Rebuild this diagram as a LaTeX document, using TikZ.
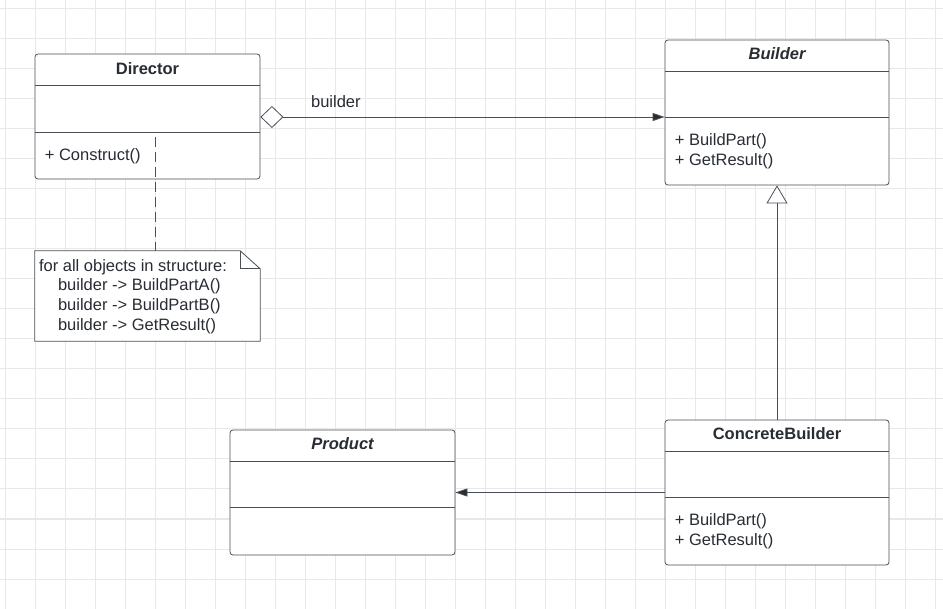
\documentclass[tikz,border=0pt]{standalone}
\usepackage{fontspec}
\setmainfont{Liberation Sans}
\definecolor{LineColor}{RGB}{74,79,87}
\definecolor{TextColor}{RGB}{40,44,51}
\definecolor{GridColor}{RGB}{232,232,232}
\usetikzlibrary{positioning, arrows.meta, calc}

\begin{document}
\begin{tikzpicture}[x=1pt, y=-1pt, font=\fontsize{16.5}{20}\selectfont,
    classbox/.style={draw=LineColor, line width=0.8pt, rounded corners=3pt, fill=white, inner sep=0pt, minimum width=225pt},
    classname/.style={font=\fontsize{16.5}{20}\selectfont\bfseries, text=TextColor, anchor=base},
    abstractname/.style={font=\fontsize{16.5}{20}\selectfont\bfseries\itshape, text=TextColor, anchor=base},
    members/.style={text=TextColor, align=left, anchor=base west, inner sep=0pt},
    divider/.style={draw=LineColor, line width=0.8pt},
    assoc/.style={draw=LineColor, line width=0.8pt, -{Triangle[length=12pt, width=8pt, fill=TextColor]}}]
  % background grid
  \useasboundingbox (0,0) rectangle (943,609);
  \fill[white] (0,0) rectangle (943,609);
  \foreach \gx in {5,35,...,935} \draw[GridColor, line width=1pt] (\gx,0) -- (\gx,609);
  \foreach \gy in {9,39,...,579} \draw[GridColor, line width=1pt] (0,\gy) -- (943,\gy);

  % classes
  \node[classbox, minimum height=125pt] (director) at (147.5,116.5) {};
  \node[classbox, minimum width=224pt, minimum height=145pt] (builder) at (777,112.5) {};
  \node[classbox, minimum width=224pt, minimum height=145pt] (concrete) at (777,492.5) {};
  \node[classbox, minimum height=125pt] (product) at (342.5,492.5) {};

  % compartments
  \draw[divider] ([yshift=-32pt]director.north west) -- ([yshift=-32pt]director.north east);
  \draw[divider] ([yshift=-79pt]director.north west) -- ([yshift=-79pt]director.north east);
  \draw[divider] ([yshift=-32pt]builder.north west) -- ([yshift=-32pt]builder.north east);
  \draw[divider] ([yshift=-78pt]builder.north west) -- ([yshift=-78pt]builder.north east);
  \draw[divider] ([yshift=-32pt]concrete.north west) -- ([yshift=-32pt]concrete.north east);
  \draw[divider] ([yshift=-78pt]concrete.north west) -- ([yshift=-78pt]concrete.north east);
  \draw[divider] ([yshift=-32pt]product.north west) -- ([yshift=-32pt]product.north east);
  \draw[divider] ([yshift=-78pt]product.north west) -- ([yshift=-78pt]product.north east);

  % names and operations
  \node[classname] (directorname) at ([yshift=-21pt]director.north) {Director};
  \node[abstractname] (buildername) at ([yshift=-20pt]builder.north) {Builder};
  \node[classname] (concretename) at ([yshift=-20pt]concrete.north) {ConcreteBuilder};
  \node[abstractname] (productname) at ([yshift=-20pt]product.north) {Product};
  \node[members] (directorops) at ([xshift=10pt, yshift=-107pt]director.north west) {+ Construct()};
  \node[members] (builderops) at ([xshift=10pt, yshift=-126pt]builder.north west) {+ BuildPart()\\+ GetResult()};
  \node[members] (concreteops) at ([xshift=10pt, yshift=-126pt]concrete.north west) {+ BuildPart()\\+ GetResult()};

  % note
  \node[inner sep=0pt, minimum width=225pt, minimum height=90pt] (note) at (147.5,296) {};
  \draw[LineColor, line width=0.8pt, fill=white] (note.north west) -- ([xshift=-20pt]note.north east)
    -- ([yshift=-18pt]note.north east) -- (note.south east) -- (note.south west) -- cycle;
  \draw[LineColor, line width=0.8pt] ([xshift=-20pt]note.north east) -- ([xshift=-20pt, yshift=-18pt]note.north east)
    -- ([yshift=-18pt]note.north east);
  \node[members] (notetext) at ([xshift=4pt, yshift=-21pt]note.north west) {for all objects in structure:};
  \node[members] (notebody) at ([xshift=23pt, yshift=-80pt]note.north west)
    {builder -> BuildPartA()\\builder -> BuildPartB()\\builder -> GetResult()};
  \coordinate (dashstart) at ([xshift=7.5pt, yshift=-83pt]director.north);
  \draw[LineColor, line width=0.8pt, dash pattern=on 10pt off 5pt] (dashstart) -- (dashstart |- note.north);

  % relations
  \draw[assoc, {Diamond[open, length=23pt, width=22pt, fill=white]}-{Triangle[length=12pt, width=8pt, fill=TextColor]}]
    (director.east |- 0,117) -- (builder.west |- 0,117)
    node[pos=0, anchor=base west, xshift=47pt, yshift=9pt, text=TextColor] (rolename) {builder};
  \draw[draw=LineColor, line width=0.8pt, -{Triangle[open, length=18pt, width=21pt, fill=white]}] (concrete.north) -- (builder.south);
  \draw[assoc] (concrete.west) -- (product.east);
\end{tikzpicture}
\end{document}
